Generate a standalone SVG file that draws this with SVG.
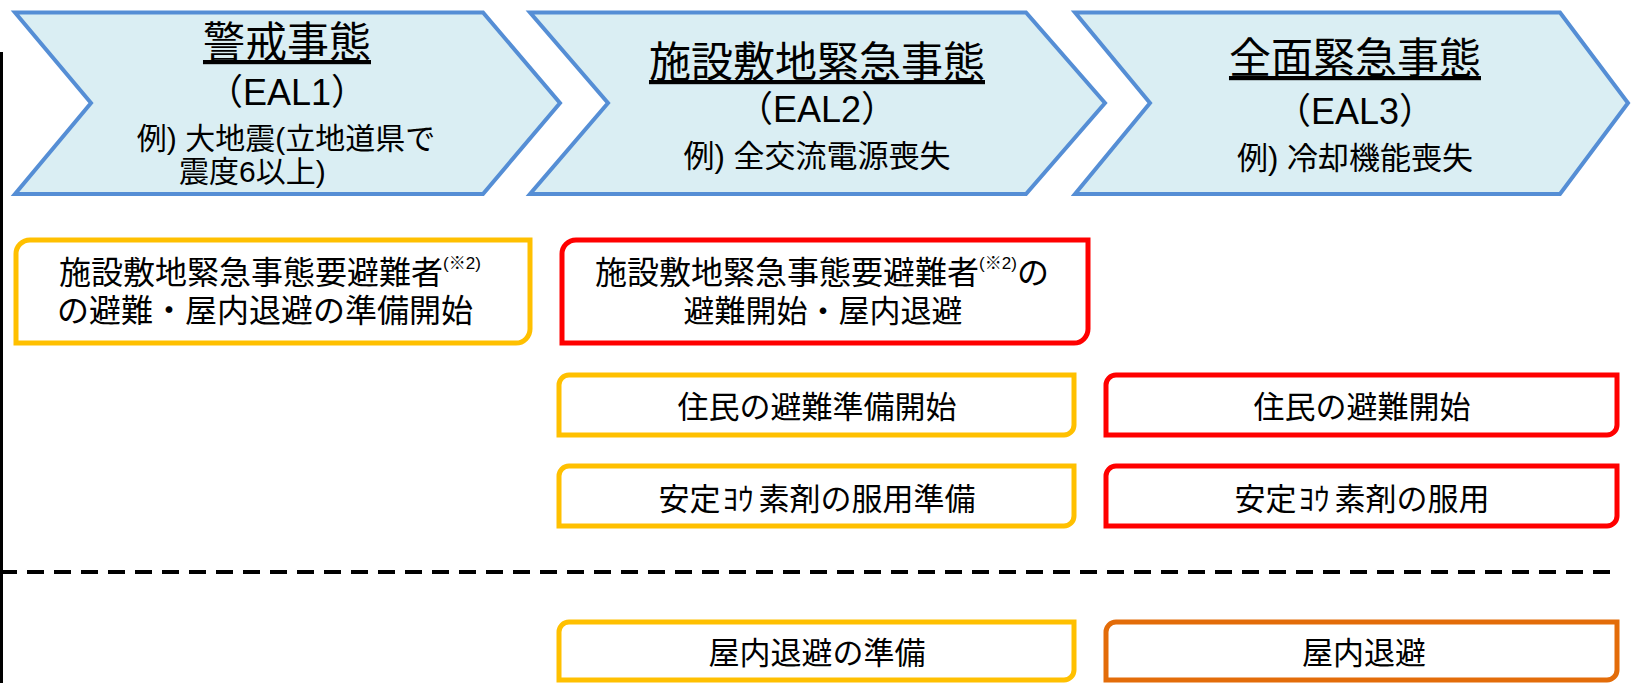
<svg xmlns="http://www.w3.org/2000/svg" width="1631" height="683" viewBox="0 0 1631 683">
<style>
.chev{fill:#DAEEF3;stroke:#558ED5;stroke-width:4;stroke-linejoin:miter}
.t{font-family:"Liberation Sans","Noto Sans CJK JP",sans-serif;fill:#000;text-anchor:middle}
.title{font-size:42px;text-decoration:underline}
.eal{font-size:36px}
.ex{font-size:31px}
.ex1{font-size:30px}
.box{fill:#fff;stroke-width:5}
.yel{stroke:#FFC000}
.red{stroke:#FF0000}
.org{stroke:#E36C09}
.bt{font-size:31px}
.bt2{font-size:32px}
.sup{font-size:17px}
</style>
<rect width="1631" height="683" fill="#fff"/>
<g id="lines">
<line x1="1.5" y1="52" x2="1.5" y2="683" stroke="#000" stroke-width="3"/>
<line x1="0" y1="572" x2="1612" y2="572" stroke="#000" stroke-width="4" stroke-dasharray="17 10"/>
</g>
<g id="eal1">
<polygon class="chev" points="15,12.5 483,12.5 560,103 483,194 15,194 91,103"/>
<text class="t title" x="287" y="57">警戒事態</text>
<text class="t eal" x="287" y="105">（EAL1）</text>
<text class="t ex1" x="286" y="149">例) 大地震(立地道県で</text>
<text class="t ex1" x="179" y="182" style="text-anchor:start">震度6以上)</text>
</g>
<g id="eal2">
<polygon class="chev" points="530,12.5 1026,12.5 1105,103 1026,194 530,194 608,103"/>
<text class="t title" x="817" y="77">施設敷地緊急事態</text>
<text class="t eal" x="817" y="122">（EAL2）</text>
<text class="t ex" x="817" y="167">例) 全交流電源喪失</text>
</g>
<g id="eal3">
<polygon class="chev" points="1075,12.5 1560,12.5 1628,103 1560,194 1075,194 1150,103"/>
<text class="t title" x="1355" y="73">全面緊急事態</text>
<text class="t eal" x="1355" y="124">（EAL3）</text>
<text class="t ex" x="1355" y="169">例) 冷却機能喪失</text>
</g>
<g id="box-a">
<path class="box yel" d="M30,240 H530 V329 A14,14 0 0 1 516,343 H16 V254 A14,14 0 0 1 30,240 Z"/>
<text class="t bt2" x="270" y="284">施設敷地緊急事態要避難者<tspan class="sup" dy="-15">(※2)</tspan></text>
<text class="t bt2" x="265" y="322">の避難・屋内退避の準備開始</text>
</g>
<g id="box-b">
<path class="box red" d="M576,240 H1088 V329 A14,14 0 0 1 1074,343 H562 V254 A14,14 0 0 1 576,240 Z"/>
<text class="t bt2" x="822" y="284">施設敷地緊急事態要避難者<tspan class="sup" dy="-15">(※2)</tspan><tspan dy="15">の</tspan></text>
<text class="t bt" x="823" y="322">避難開始・屋内退避</text>
</g>
<g id="box-c">
<path class="box yel" d="M569,375 H1074 V425 A10,10 0 0 1 1064,435 H559 V385 A10,10 0 0 1 569,375 Z"/>
<text class="t bt" x="817" y="418">住民の避難準備開始</text>
</g>
<g id="box-d">
<path class="box red" d="M1116,375 H1617 V425 A10,10 0 0 1 1607,435 H1106 V385 A10,10 0 0 1 1116,375 Z"/>
<text class="t bt" x="1362" y="418">住民の避難開始</text>
</g>
<g id="box-e">
<path class="box yel" d="M569,466 H1074 V516 A10,10 0 0 1 1064,526 H559 V476 A10,10 0 0 1 569,466 Z"/>
<text class="t bt" x="817" y="510">安定<tspan dx="2">ﾖｳ</tspan><tspan dx="5">素剤の服用準備</tspan></text>
</g>
<g id="box-f">
<path class="box red" d="M1116,466 H1617 V516 A10,10 0 0 1 1607,526 H1106 V476 A10,10 0 0 1 1116,466 Z"/>
<text class="t bt" x="1362" y="510">安定<tspan dx="2">ﾖｳ</tspan><tspan dx="5">素剤の服用</tspan></text>
</g>
<g id="box-g">
<path class="box yel" d="M569,622 H1074 V670 A10,10 0 0 1 1064,680 H559 V632 A10,10 0 0 1 569,622 Z"/>
<text class="t bt" x="817" y="664">屋内退避の準備</text>
</g>
<g id="box-h">
<path class="box org" d="M1116,622 H1617 V670 A10,10 0 0 1 1607,680 H1106 V632 A10,10 0 0 1 1116,622 Z"/>
<text class="t bt" x="1364" y="664">屋内退避</text>
</g>
</svg>
